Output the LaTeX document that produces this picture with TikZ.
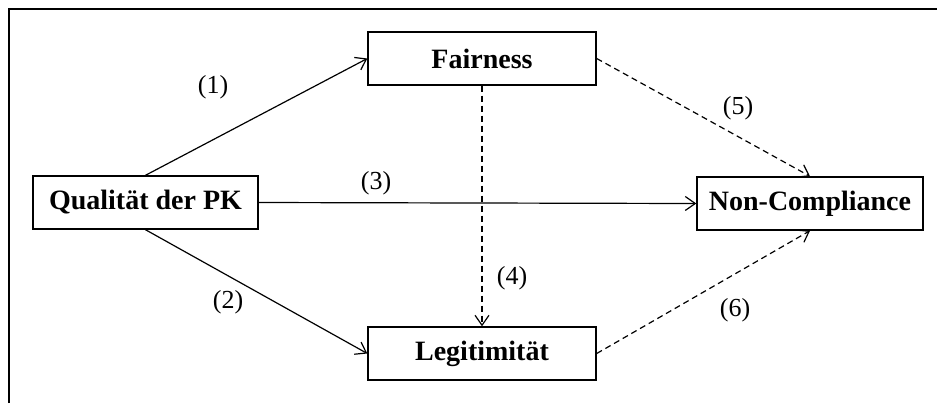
\documentclass[tikz,border=0pt]{standalone}
\usepackage{fontspec}
\setmainfont{Liberation Serif}
\usetikzlibrary{arrows.meta}
\begin{document}
\begin{tikzpicture}[x=0.5pt,y=-0.5pt,
  box/.style={draw,line width=0.7pt,minimum height=26.5pt,inner sep=0pt,font=\fontsize{14}{16}\selectfont\bfseries},
  conn/.style={line width=0.6pt,-{Straight Barb[length=5pt,width=7pt,line width=0.6pt]}},
  dconn/.style={conn,dash pattern=on 3pt off 2pt},
  lab/.style={font=\fontsize{13}{15}\selectfont,inner sep=0pt}]
\useasboundingbox (0,0) rectangle (937,403);
\coordinate (fb) at (8.5,403);
\coordinate (fr) at (937,9);
\draw[line width=1pt] (fb) |- (fr);
\node[box,minimum width=112.5pt] (Q) at (145.5,202.5) {Qualität der PK};
\node[box,minimum width=114pt] (F) at (482,58.5) {Fairness};
\node[box,minimum width=114pt] (L) at (482,353.5) {Legitimität};
\node[box,minimum width=113pt] (N) at (810,203.5) {Non-Compliance};
\draw[conn] (Q.north) -- (F.west);
\draw[conn] (Q.south) -- (L.west);
\draw[conn] (Q.east) -- (N.west);
\draw[dconn] (F.south) -- (L.north);
\draw[dconn] (F.east) -- (N.north);
\draw[dconn] (L.east) -- (N.south);
\node[lab] (l1) at (213,87) {(1)};
\node[lab] (l2) at (228,302) {(2)};
\node[lab] (l3) at (376,183) {(3)};
\node[lab] (l4) at (512,278) {(4)};
\node[lab] (l5) at (738,108) {(5)};
\node[lab] (l6) at (735,310) {(6)};
\end{tikzpicture}
\end{document}
